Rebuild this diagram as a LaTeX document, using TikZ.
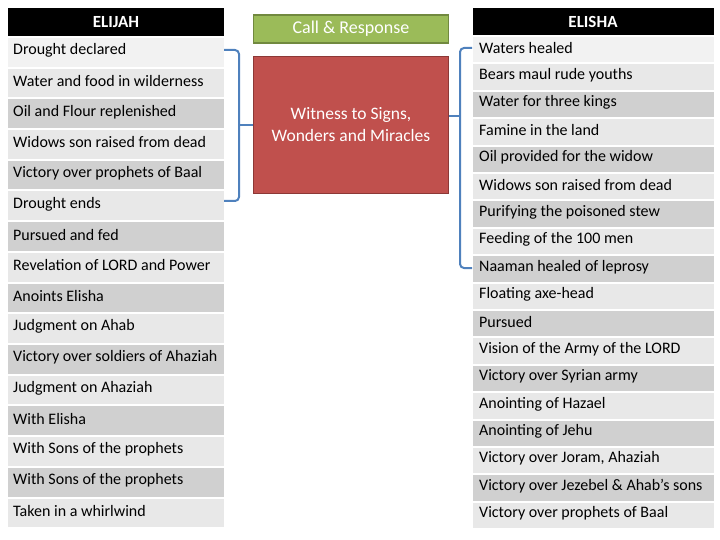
\documentclass[tikz,border=0pt]{standalone}
\usepackage{fontspec}
\setmainfont{Carlito}
\definecolor{rowA}{HTML}{E8E8E8}
\definecolor{rowB}{HTML}{D0D0D0}
\definecolor{rowF}{HTML}{F2F2F2}
\definecolor{grn}{HTML}{9BBB59}
\definecolor{grnb}{HTML}{71893F}
\definecolor{redb}{HTML}{C0504D}
\definecolor{redd}{HTML}{8C3836}
\definecolor{brk}{HTML}{4F81BD}
\tikzset{
 hdr/.style={fill=black,text=white,font=\fontsize{17}{19}\selectfont\bfseries,inner sep=0},
 item/.style={anchor=west,font=\fontsize{16}{18}\selectfont,inner sep=0},
 brack/.style={draw=brk,line width=2pt,rounded corners=4pt}
}
\begin{document}
\begin{tikzpicture}[x=1pt,y=-1pt]
\useasboundingbox (0,0) rectangle (720,540);
% left column
\fill[black] (8,8) rectangle (224,36);
\node[hdr] (lh) at (116,22) {ELIJAH};
\foreach \t [count=\i] in {Drought declared,Water and food in wilderness,Oil and Flour replenished,Widows son raised from dead,Victory over prophets of Baal,Drought ends,Pursued and fed,Revelation of LORD and Power,Anoints Elisha,Judgment on Ahab,Victory over soldiers of Ahaziah,Judgment on Ahaziah,With Elisha,With Sons of the prophets,With Sons of the prophets,Taken in a whirlwind}{
 \pgfmathsetmacro\ya{37+(\i-1)*30.7+1}
 \pgfmathsetmacro\yb{37+\i*30.7-1}
 \pgfmathtruncatemacro\odd{mod(\i,2)}
 \ifnum\i=1 \def\cc{rowF}\else\ifnum\odd=1 \def\cc{rowB}\else\def\cc{rowA}\fi\fi
 \fill[\cc] (8,\ya) rectangle (224,\yb);
 \node[item] (l\i) at (13,{(\ya+\yb)/2-2}) {\t};
}
% right column
\fill[black] (473,8) rectangle (714,35);
\node[hdr] (rh) at (593,22) {ELISHA};
\foreach \t [count=\i] in {Waters healed,Bears maul rude youths,Water for three kings,Famine in the land,Oil provided for the widow,Widows son raised from dead,Purifying the poisoned stew,Feeding of the 100 men,Naaman healed of leprosy,Floating axe-head,Pursued,Vision of the Army of the LORD,Victory over Syrian army,Anointing of Hazael,Anointing of Jehu,{Victory over Joram, Ahaziah},Victory over Jezebel \& Ahab’s sons,Victory over prophets of Baal}{
 \pgfmathsetmacro\ya{36+(\i-1)*27.4+1}
 \pgfmathsetmacro\yb{36+\i*27.4-1}
 \pgfmathtruncatemacro\odd{mod(\i,2)}
 \ifnum\i=1 \def\cc{rowF}\else\ifnum\odd=1 \def\cc{rowB}\else\def\cc{rowA}\fi\fi
 \fill[\cc] (473,\ya) rectangle (714,\yb);
 \node[item] (r\i) at (479,{(\ya+\yb)/2-2}) {\t};
}
% middle boxes
\node[draw=grnb,line width=1.5pt,fill=grn,text=white,minimum width=195pt,minimum height=28pt,font=\fontsize{18}{20}\selectfont] (cr) at (351,29) {Call \& Response};
\node[draw=redd,line width=1.5pt,fill=redb,text=white,minimum width=195pt,minimum height=137pt,align=center,font=\fontsize{17.5}{22}\selectfont] (wit) at (351,125) {Witness to Signs,\\Wonders and Miracles};
% brackets
\coordinate (lt) at (224,50); \coordinate (lb) at (224,201);
\draw[brack] (lt) -- (239,50) -- (239,201) -- (lb);
\draw[brack] (239,125) -- (wit.west);
\coordinate (rt) at (472,48); \coordinate (rb) at (472,268);
\draw[brack] (rt) -- (460,48) -- (460,268) -- (rb);
\draw[brack] (460,116) -- (wit.east|-0,116);
\end{tikzpicture}
\end{document}
